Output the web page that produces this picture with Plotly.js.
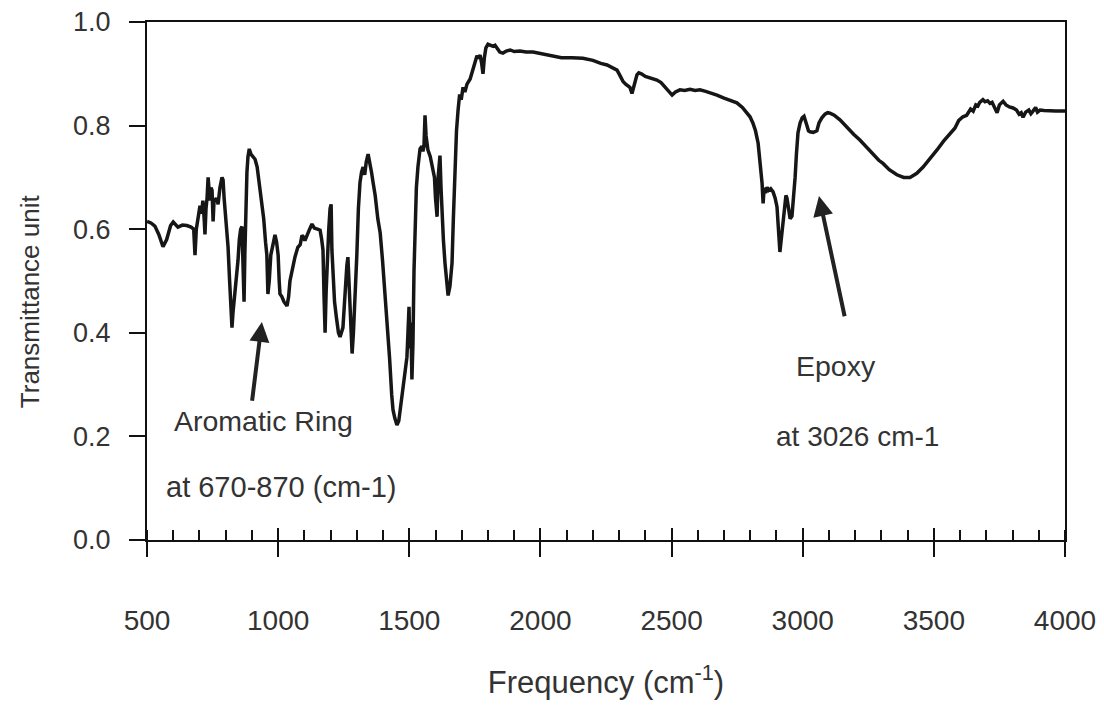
<!DOCTYPE html>
<html>
<head>
<meta charset="utf-8">
<script src="https://cdn.plot.ly/plotly-3.0.1.min.js"></script>
<style>html,body{margin:0;padding:0;background:#fff;}#chart{width:1104px;height:706px;}</style>
</head>
<body>
<div id="chart"></div>
<script>
// Wavenumber (cm-1)
const wavenumber = [
500,515,530,545,561,575,590,600,618,635,652,668,678,683,688,695,702,708,713,718,721,725,729,733,737,740,744,748,752,756,760,766,771,778,786,790,794,797,803,809,815,820,824,828,836,842,847,852,857,862,866,870,873,877,881,885,890,896,904,912,920,930,938,945,952,957,961,966,972,977,983,988,994,1000,1004,1007,1014,1022,1034,1040,1045,1055,1064,1075,1084,1091,1097,1102,1110,1120,1129,1138,1150,1160,1166,1171,1175,1179,1183,1188,1193,1198,1202,1205,1209,1215,1222,1230,1236,1242,1247,1252,1257,1262,1266,1270,1275,1282,1287,1293,1300,1306,1312,1318,1324,1330,1336,1343,1350,1356,1362,1370,1380,1389,1398,1407,1415,1425,1433,1438,1445,1453,1460,1468,1476,1484,1491,1495,1499,1502,1506,1510,1514,1518,1522,1527,1533,1541,1548,1552,1556,1560,1564,1568,1571,1580,1590,1596,1600,1606,1610,1614,1617,1621,1625,1630,1636,1642,1648,1655,1663,1668,1674,1680,1686,1692,1698,1705,1712,1720,1732,1740,1745,1751,1758,1764,1770,1776,1781,1786,1792,1800,1810,1820,1827,1835,1845,1857,1870,1885,1900,1922,1945,1972,2000,2020,2048,2080,2120,2162,2200,2230,2254,2275,2292,2305,2315,2325,2335,2341,2349,2355,2361,2368,2375,2385,2400,2420,2444,2460,2475,2490,2502,2515,2532,2550,2570,2590,2608,2630,2650,2673,2700,2720,2749,2770,2785,2799,2810,2820,2830,2838,2845,2849,2853,2858,2864,2870,2878,2887,2895,2902,2907,2913,2918,2925,2932,2936,2940,2946,2952,2959,2965,2971,2976,2982,2990,2998,3005,3011,3016,3022,3028,3040,3054,3062,3073,3085,3095,3104,3120,3142,3170,3195,3218,3245,3270,3290,3306,3330,3359,3385,3409,3435,3459,3485,3512,3537,3562,3580,3595,3611,3625,3640,3650,3660,3668,3675,3687,3695,3705,3714,3722,3732,3741,3750,3764,3775,3788,3802,3815,3825,3833,3840,3850,3862,3870,3878,3888,3895,3905,3920,3943,3965,3989,4000
];
// Transmittance
const transmittance = [
0.615,0.612,0.606,0.59,0.566,0.58,0.607,0.614,0.604,0.608,0.607,0.604,0.60,0.55,0.60,0.625,0.645,0.63,0.655,0.62,0.59,0.64,0.66,0.70,0.66,0.655,0.68,0.675,0.615,0.66,0.655,0.66,0.648,0.68,0.70,0.695,0.66,0.643,0.60,0.566,0.50,0.44,0.41,0.44,0.48,0.52,0.54,0.58,0.60,0.605,0.54,0.46,0.55,0.67,0.71,0.74,0.755,0.745,0.74,0.735,0.72,0.68,0.656,0.62,0.575,0.55,0.475,0.50,0.55,0.565,0.58,0.589,0.575,0.55,0.50,0.475,0.47,0.46,0.452,0.47,0.50,0.525,0.546,0.565,0.57,0.588,0.585,0.578,0.59,0.60,0.61,0.602,0.60,0.598,0.58,0.56,0.47,0.40,0.48,0.56,0.60,0.64,0.648,0.56,0.50,0.46,0.43,0.40,0.392,0.40,0.41,0.45,0.50,0.53,0.546,0.50,0.42,0.36,0.40,0.46,0.55,0.64,0.69,0.71,0.72,0.705,0.73,0.745,0.72,0.71,0.69,0.665,0.62,0.593,0.54,0.48,0.43,0.35,0.28,0.251,0.235,0.222,0.23,0.26,0.30,0.33,0.353,0.40,0.45,0.37,0.42,0.31,0.38,0.52,0.62,0.68,0.72,0.755,0.76,0.75,0.76,0.82,0.78,0.76,0.753,0.74,0.714,0.70,0.66,0.624,0.70,0.74,0.742,0.68,0.624,0.58,0.535,0.50,0.472,0.49,0.535,0.62,0.728,0.79,0.83,0.86,0.85,0.874,0.865,0.88,0.89,0.905,0.915,0.92,0.935,0.93,0.936,0.92,0.90,0.93,0.95,0.957,0.955,0.953,0.955,0.948,0.942,0.94,0.944,0.946,0.943,0.944,0.942,0.942,0.939,0.936,0.933,0.931,0.931,0.93,0.926,0.92,0.917,0.912,0.907,0.895,0.885,0.88,0.876,0.874,0.862,0.872,0.885,0.898,0.902,0.90,0.895,0.892,0.888,0.883,0.875,0.865,0.859,0.865,0.869,0.868,0.87,0.868,0.869,0.866,0.863,0.859,0.853,0.85,0.844,0.835,0.826,0.817,0.805,0.79,0.766,0.73,0.689,0.65,0.68,0.67,0.681,0.675,0.678,0.672,0.66,0.643,0.60,0.556,0.58,0.615,0.64,0.665,0.66,0.64,0.62,0.625,0.66,0.70,0.745,0.786,0.805,0.815,0.818,0.81,0.80,0.79,0.788,0.787,0.79,0.805,0.815,0.822,0.825,0.824,0.82,0.811,0.795,0.783,0.772,0.757,0.743,0.733,0.727,0.715,0.705,0.700,0.700,0.708,0.72,0.735,0.753,0.77,0.786,0.795,0.81,0.817,0.82,0.832,0.828,0.84,0.838,0.845,0.85,0.846,0.848,0.843,0.845,0.835,0.825,0.84,0.847,0.84,0.836,0.834,0.83,0.822,0.825,0.816,0.826,0.83,0.823,0.828,0.835,0.826,0.83,0.829,0.828,0.828,0.828,0.828
];
const xTickVals = [500,1000,1500,2000,2500,3000,3500,4000];
const yTickVals = [0.0,0.2,0.4,0.6,0.8,1.0];

const FONT = '"Liberation Sans", Arial, sans-serif';
const TXT = '#333333';

const traces = [
  {x: wavenumber, y: transmittance, type: 'scatter', mode: 'lines',
   line: {color: '#161616', width: 3.5}, showlegend: false, hoverinfo: 'skip'},
  {x: [xTickVals[0], xTickVals[xTickVals.length-1]], y: [null, null], xaxis: 'x2', yaxis: 'y',
   type: 'scatter', mode: 'lines', showlegend: false, hoverinfo: 'skip'}
];

const layout = {
  width: 1104, height: 706,
  margin: {l: 147, r: 39, t: 22, b: 166},
  paper_bgcolor: '#ffffff', plot_bgcolor: '#ffffff',
  font: {family: FONT, color: TXT, size: 26},
  showlegend: false,
  xaxis: {
    range: [500, 4000], tickmode: 'array', tickvals: xTickVals,
    ticks: 'outside', ticklen: 15, tickwidth: 2, tickcolor: '#111',
    showline: true, linewidth: 2, linecolor: '#111', mirror: true,
    showgrid: false, zeroline: false,
    tickfont: {size: 28, color: TXT, family: FONT},
    ticklabelstandoff: 39,
    minor: {dtick: 100, tick0: 500, ticks: 'inside', ticklen: 10, tickwidth: 2, tickcolor: '#111', showgrid: false},
    title: {text: 'Frequency (cm<sup>-1</sup>)', font: {size: 31, color: TXT, family: FONT}, standoff: 37}
  },
  xaxis2: {
    range: [500, 4000], overlaying: 'x', anchor: 'y', side: 'bottom',
    tickmode: 'array', tickvals: xTickVals,
    ticks: 'inside', ticklen: 12, tickwidth: 2, tickcolor: '#111',
    showticklabels: false, showline: false, showgrid: false, zeroline: false
  },
  yaxis: {
    range: [0, 1], tickmode: 'array', tickvals: yTickVals, tickformat: '.1f',
    ticks: 'outside', ticklen: 16, tickwidth: 2, tickcolor: '#111',
    showline: true, linewidth: 2, linecolor: '#111', mirror: true,
    showgrid: false, zeroline: false,
    tickfont: {size: 27, color: TXT, family: FONT},
    ticklabelstandoff: 13
  },
  annotations: [
    {x: -0.128, y: 0.462, xref: 'paper', yref: 'paper', text: 'Transmittance unit',
     textangle: -90, showarrow: false, xanchor: 'center', yanchor: 'middle',
     font: {size: 26, color: TXT, family: FONT}},
    {x: 938, y: 0.421, ax: 900, ay: 0.266, xref: 'x', yref: 'y', axref: 'x', ayref: 'y',
     text: '', showarrow: true, arrowhead: 2, arrowsize: 1, arrowwidth: 4, arrowcolor: '#222'},
    {x: 3062, y: 0.664, ax: 3161, ay: 0.429, xref: 'x', yref: 'y', axref: 'x', ayref: 'y',
     text: '', showarrow: true, arrowhead: 2, arrowsize: 1, arrowwidth: 4, arrowcolor: '#222'},
    {x: 946, y: 0.23, xref: 'x', yref: 'y', text: 'Aromatic Ring', showarrow: false,
     font: {size: 28.5, color: TXT, family: FONT}},
    {x: 1011, y: 0.102, xref: 'x', yref: 'y', text: 'at 670-870 (cm-1)', showarrow: false,
     font: {size: 29, color: TXT, family: FONT}},
    {x: 3127, y: 0.336, xref: 'x', yref: 'y', text: 'Epoxy', showarrow: false,
     font: {size: 28.5, color: TXT, family: FONT}},
    {x: 3207, y: 0.20, xref: 'x', yref: 'y', text: 'at 3026 cm-1', showarrow: false,
     font: {size: 28, color: TXT, family: FONT}}
  ]
};

Plotly.newPlot('chart', traces, layout, {staticPlot: true, displayModeBar: false});
</script>
</body>
</html>
